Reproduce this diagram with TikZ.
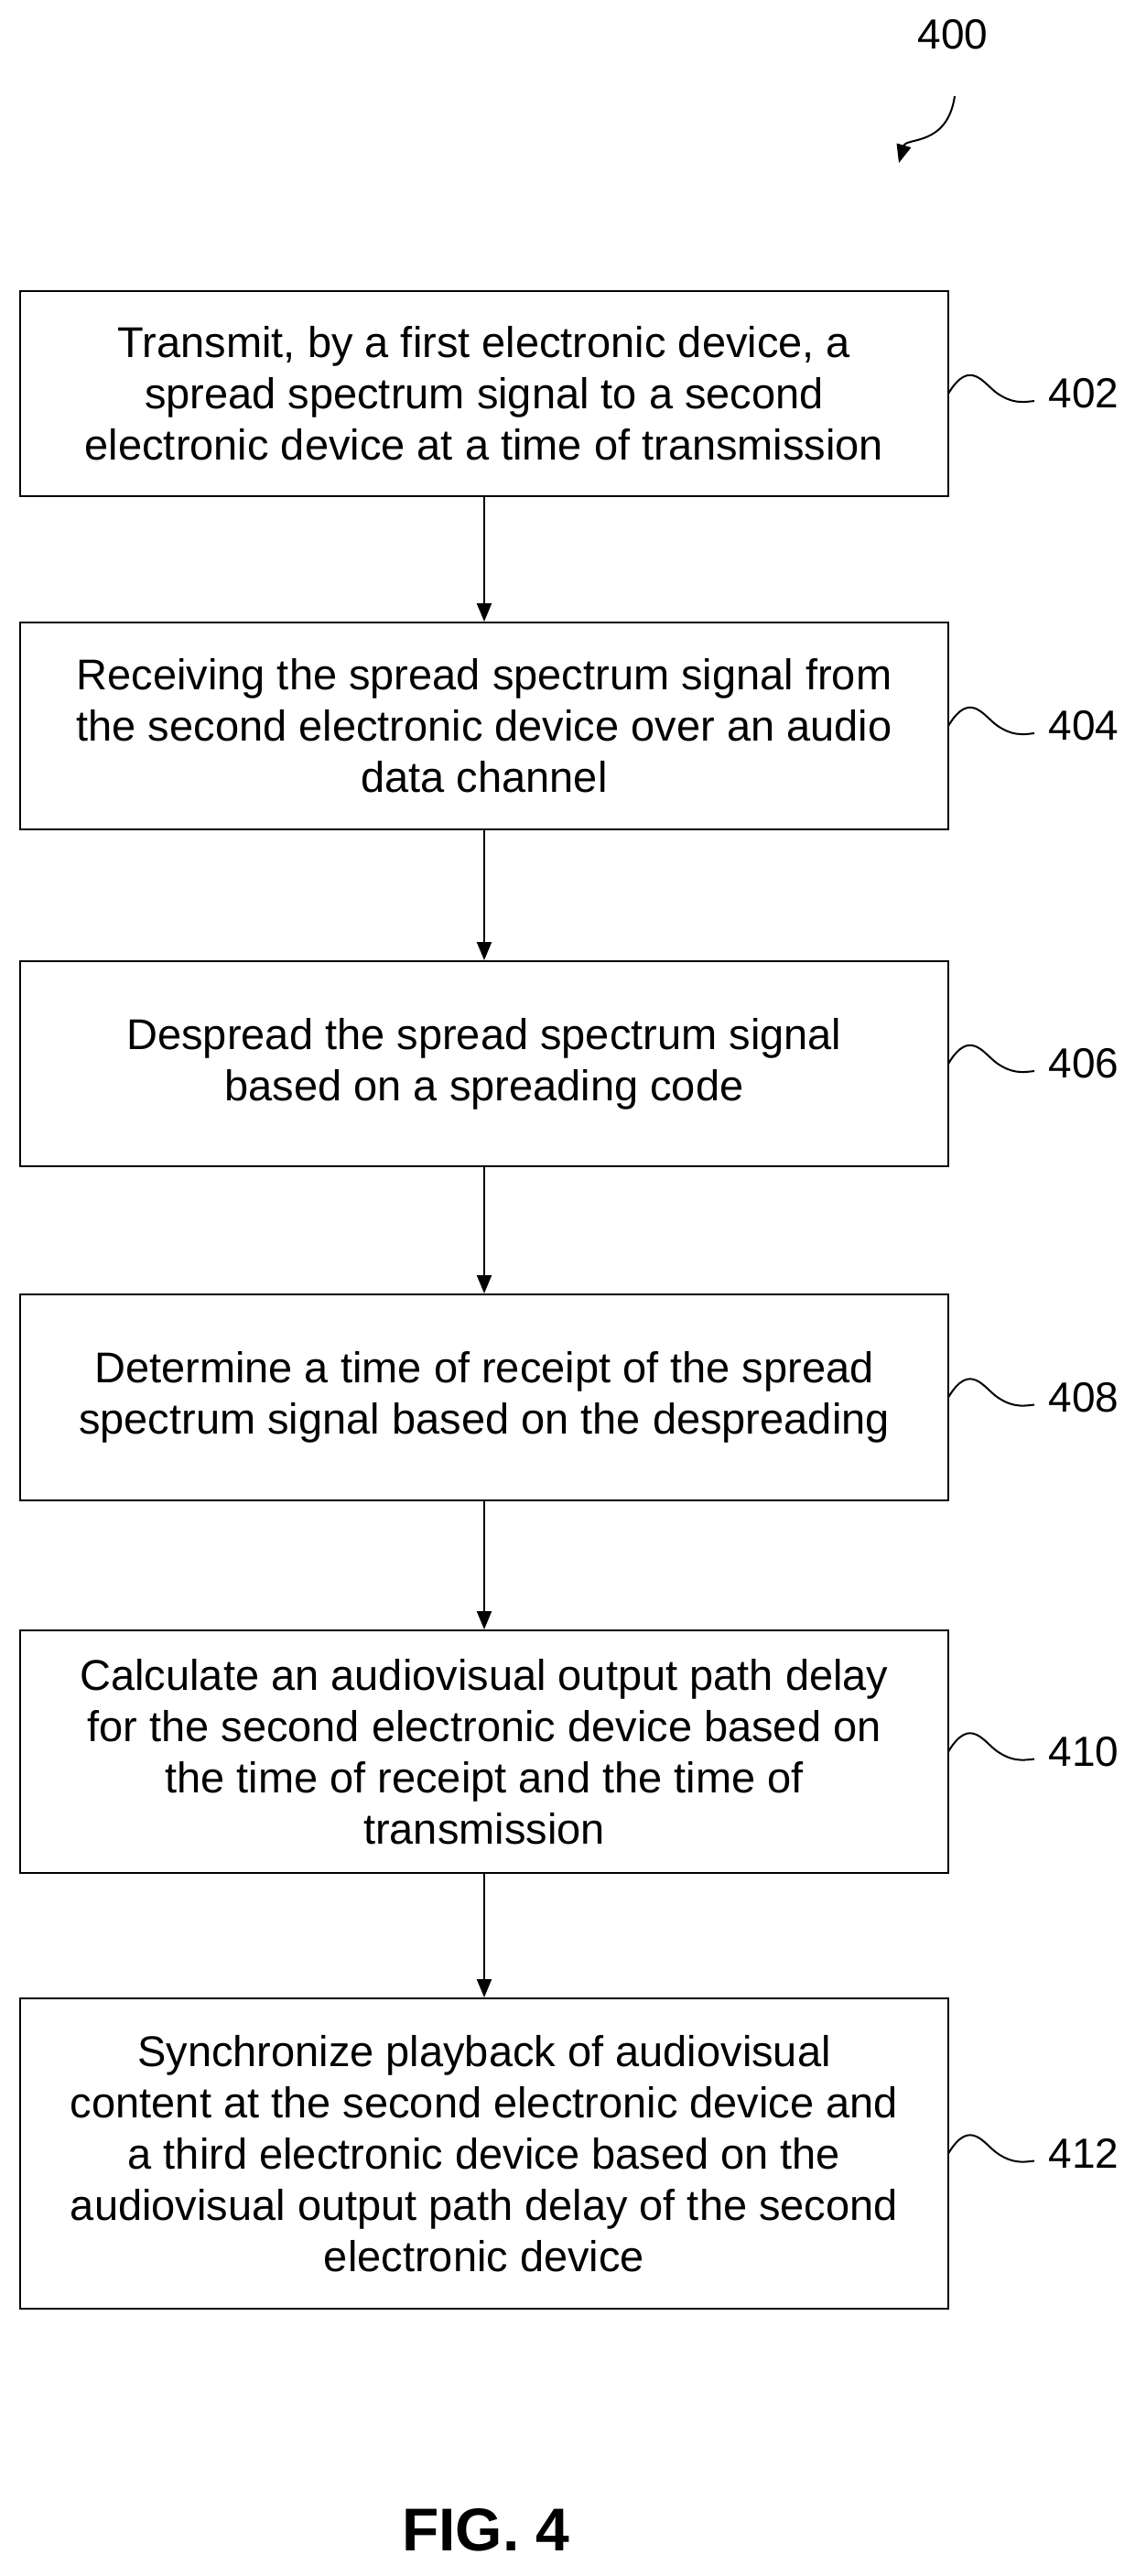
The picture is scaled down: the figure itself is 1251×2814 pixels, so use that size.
\documentclass[tikz,border=0pt]{standalone}
\usepackage{fontspec}
\setmainfont{Liberation Sans}
\usetikzlibrary{arrows.meta}
\begin{document}
\begin{tikzpicture}[x=1pt,y=-1pt,
  box/.style={draw,line width=2pt,minimum width=1014pt,align=center,font=\fontsize{47}{56}\selectfont,inner sep=0pt},
  lab/.style={font=\fontsize{46}{50}\selectfont,anchor=west},
  arr/.style={line width=2pt,-{Triangle[length=20pt,width=16pt]}},
  sq/.style={line width=2pt}]
\useasboundingbox (0,0) rectangle (1251,2814);
\def\bx#1#2#3#4{\node[box,minimum height=#3-#2] (b#1) at (529,{(#2+#3)/2}) {#4};
  \draw[sq] (1036,{(#2+#3)/2}) .. controls (1060,{(#2+#3)/2-40}) and (1075,{(#2+#3)/2-10}) .. (1090,{(#2+#3)/2}) .. controls (1105,{(#2+#3)/2+10}) and (1115,{(#2+#3)/2+10}) .. (1130,{(#2+#3)/2+8});
  \node[lab] (l#1) at (1142,{(#2+#3)/2}) {#1};}
\bx{402}{318}{542}{Transmit, by a first electronic device, a\\spread spectrum signal to a second\\electronic device at a time of transmission}
\bx{404}{680}{906}{Receiving the spread spectrum signal from\\the second electronic device over an audio\\data channel}
\bx{406}{1050}{1274}{Despread the spread spectrum signal\\based on a spreading code}
\bx{408}{1414}{1639}{Determine a time of receipt of the spread\\spectrum signal based on the despreading}
\bx{410}{1781}{2046}{Calculate an audiovisual output path delay\\for the second electronic device based on\\the time of receipt and the time of\\transmission}
\bx{412}{2183}{2522}{Synchronize playback of audiovisual\\content at the second electronic device and\\a third electronic device based on the\\audiovisual output path delay of the second\\electronic device}
\draw[arr] (b402) -- (b404);
\draw[arr] (b404) -- (b406);
\draw[arr] (b406) -- (b408);
\draw[arr] (b408) -- (b410);
\draw[arr] (b410) -- (b412);
\node[font=\fontsize{46}{50}\selectfont] (n400) at (1041,38) {400};
\coordinate (a0) at (1043,105);
\coordinate (a1) at (982,178);
\draw[arr] (a0) .. controls (1035,160) and (990,150) .. (a1);
\node[font=\bfseries\fontsize{66}{70}\selectfont] (fig) at (531,2764) {FIG. 4};
\end{tikzpicture}
\end{document}
